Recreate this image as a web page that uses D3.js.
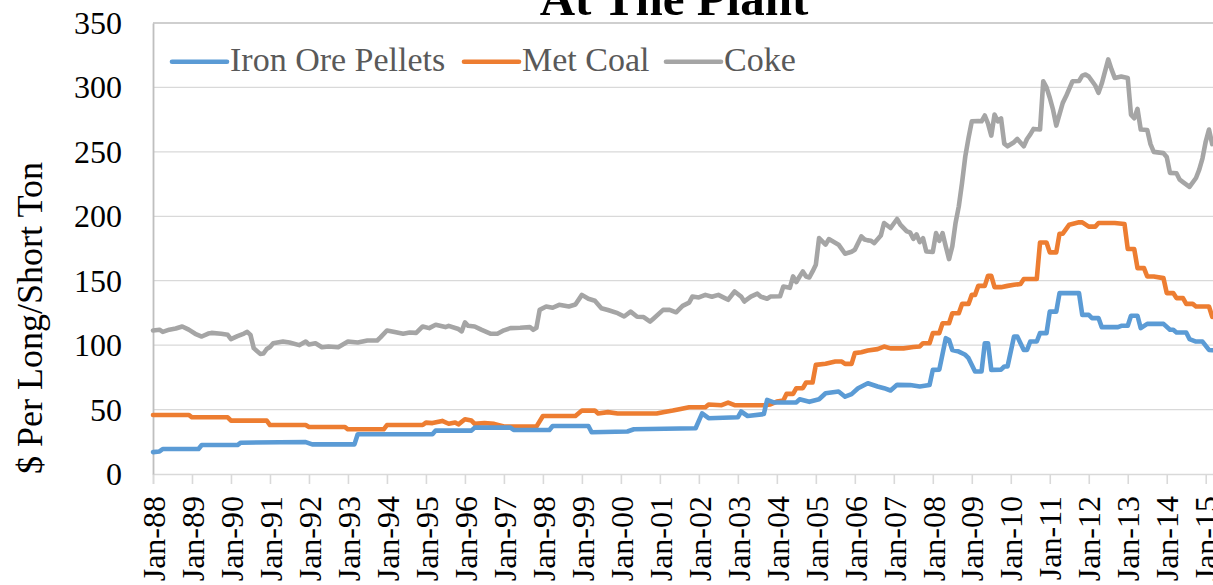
<!DOCTYPE html>
<html>
<head>
<meta charset="utf-8">
<script src="https://cdn.jsdelivr.net/npm/d3@7"></script>
<style>
  html, body { margin: 0; padding: 0; background: #fff; overflow: hidden; }
  svg { display: block; }
  text { font-family: "Liberation Serif", "Times New Roman", serif; }
</style>
</head>
<body>
<svg id="chart" width="1213" height="585"></svg>
<script>
// ---------------- DATA ----------------
const chartTitle = "At The Plant";
const yAxisTitle = "$ Per Long/Short Ton";
const seriesNames = ["Iron Ore Pellets", "Met Coal", "Coke"];
const yTicks = [0, 50, 100, 150, 200, 250, 300, 350];
const xTickLabels = ["Jan-88","Jan-89","Jan-90","Jan-91","Jan-92","Jan-93","Jan-94","Jan-95","Jan-96","Jan-97",
  "Jan-98","Jan-99","Jan-00","Jan-01","Jan-02","Jan-03","Jan-04","Jan-05","Jan-06","Jan-07","Jan-08","Jan-09",
  "Jan-10","Jan-11","Jan-12","Jan-13","Jan-14","Jan-15"];

const ironOre = [
  ["1988-01",17],["1988-03",17.5],["1988-04",19.4],["1989-03",19.4],["1989-04",22.5],["1990-03",22.5],
  ["1990-04",24.3],["1991-12",24.8],["1992-02",23],["1993-03",23],["1993-04",30.8],["1995-03",30.8],
  ["1995-04",33.7],["1996-03",33.7],["1996-04",36],["1997-03",36],["1997-04",34.2],["1998-03",34.2],
  ["1998-04",37.3],["1999-03",37.3],["1999-04",32.4],["2000-03",33],["2000-05",34.7],["2001-12",35.5],
  ["2002-02",47],["2002-04",43.3],["2003-01",44],["2003-02",48.5],["2003-04",45],["2003-09",46.5],
  ["2003-10",57.5],["2003-12",55.5],["2004-07",55.5],["2004-08",58],["2004-11",56],["2005-02",58],
  ["2005-04",62.7],["2005-08",64],["2005-10",60],["2005-12",62],["2006-02",66.6],["2006-05",70.4],
  ["2006-08",67.9],["2006-10",66.6],["2006-12",64.8],["2007-02",69.2],["2007-06",69],["2007-09",67.9],
  ["2007-12",69],["2008-01",80.8],["2008-03",81],["2008-05",105.4],["2008-06",104],["2008-07",96.3],
  ["2008-09",95],["2008-11",92.5],["2008-12",89.9],["2009-02",79.5],["2009-04",79.5],["2009-05",101.5],
  ["2009-06",101.5],["2009-07",80.8],["2009-10",81],["2009-11",83.4],["2009-12",83.4],["2010-02",106.7],
  ["2010-03",106.7],["2010-05",96.3],["2010-06",96.3],["2010-07",102.8],["2010-09",102.8],["2010-10",109.3],
  ["2010-12",109.3],["2011-01",126],["2011-03",126],["2011-04",140.4],["2011-10",140.4],["2011-11",123.5],
  ["2012-01",123.5],["2012-02",121],["2012-04",121],["2012-05",114],["2012-10",114],["2012-11",115],
  ["2013-01",115],["2013-02",122.8],["2013-04",122.8],["2013-05",113.2],["2013-07",116.5],["2013-12",116.5],
  ["2014-02",111.9],["2014-03",111.9],["2014-04",109.8],["2014-07",109.8],["2014-08",104.7],["2014-10",102.8],
  ["2014-12",102.8],["2015-02",96.3],["2015-03",96]
];

const metCoal = [
  ["1988-01",45.8],["1988-12",45.8],["1989-01",44],["1989-12",44],["1990-01",41.4],["1990-12",41.4],
  ["1991-01",38],["1991-12",38],["1992-01",36.5],["1992-12",36.5],["1993-01",34.7],["1993-12",34.7],
  ["1994-01",38],["1994-12",38],["1995-01",39.9],["1995-03",39.5],["1995-06",41.2],["1995-08",39],
  ["1995-10",40],["1995-11",38.5],["1996-01",42.5],["1996-03",41.5],["1996-04",38.9],["1996-07",39.5],
  ["1996-10",38.9],["1997-01",36.8],["1997-11",36.8],["1998-01",45],["1998-11",45],["1999-01",49.2],
  ["1999-05",49.2],["1999-06",47],["1999-09",48],["1999-12",47],["2000-12",47],["2001-02",48],
  ["2001-05",49.2],["2001-07",50.3],["2001-10",51.8],["2002-03",51.8],["2002-04",53.9],["2002-08",53.4],
  ["2002-10",55.4],["2002-12",53.4],["2003-09",53.4],["2003-11",54],["2004-01",56.2],["2004-03",57],
  ["2004-04",62.2],["2004-06",62.2],["2004-07",66.6],["2004-09",66.6],["2004-10",71],["2004-12",71],
  ["2005-01",84.7],["2005-04",85.5],["2005-07",87.3],["2005-09",87.3],["2005-10",85.5],["2005-12",85.5],
  ["2006-01",93.8],["2006-03",94.5],["2006-05",95.8],["2006-08",96.9],["2006-10",98.9],["2006-12",97.5],
  ["2007-04",97.5],["2007-07",98.5],["2007-09",99],["2007-10",101.5],["2007-12",101.5],["2008-01",109.3],
  ["2008-03",109.3],["2008-04",117],["2008-06",117],["2008-07",124.8],["2008-09",124.8],["2008-10",132],
  ["2008-12",132],["2009-01",139],["2009-02",139],["2009-03",146],["2009-05",146],["2009-06",153.8],
  ["2009-07",153.8],["2009-08",145],["2009-10",145],["2009-12",146],["2010-02",146.8],["2010-04",147.5],
  ["2010-05",151.3],["2010-09",151.3],["2010-10",179.7],["2010-12",179.7],["2011-01",172],["2011-03",172],
  ["2011-04",186.5],["2011-05",186.5],["2011-07",193.5],["2011-10",195.3],["2011-11",195.3],["2012-01",192],
  ["2012-03",192],["2012-04",194.8],["2012-09",194.8],["2012-12",194],["2013-01",174.6],["2013-03",174.6],
  ["2013-04",159.8],["2013-06",159.8],["2013-07",153.3],["2013-09",153.3],["2013-12",152],["2014-01",140.4],
  ["2014-03",140.4],["2014-04",136.5],["2014-06",136.5],["2014-07",132],["2014-09",132],["2014-10",130],
  ["2015-02",130],["2015-03",122]
];

const coke = [
  ["1988-01",111.4],["1988-03",112],["1988-04",110.3],["1988-06",112],["1988-08",112.9],["1988-10",114.5],
  ["1988-12",112],["1989-02",108.8],["1989-04",106.7],["1989-06",109],["1989-07",109.5],["1989-10",108.8],
  ["1989-12",108],["1990-01",104.7],["1990-03",107],["1990-05",109],["1990-06",110.3],["1990-07",108],
  ["1990-08",97.7],["1990-10",93.2],["1990-11",93.5],["1990-12",97],["1991-01",98.5],["1991-02",101.5],
  ["1991-05",102.8],["1991-07",102],["1991-10",100],["1991-12",102.8],["1992-01",100.5],["1992-03",101.5],
  ["1992-05",98.4],["1992-07",98.9],["1992-10",98.4],["1993-01",102.8],["1993-04",102],["1993-07",103.6],
  ["1993-10",103.6],["1993-11",106],["1994-01",111.4],["1994-03",110.3],["1994-06",108.8],["1994-08",109.8],
  ["1994-10",109.5],["1994-12",114.5],["1995-02",113.2],["1995-04",115.8],["1995-07",114],["1995-08",115],
  ["1995-11",112.5],["1995-12",110.7],["1996-01",117.6],["1996-02",115],["1996-04",114.5],["1996-06",112],
  ["1996-09",108.8],["1996-11",108.8],["1997-01",111.5],["1997-03",113.2],["1997-06",113.5],["1997-09",114],
  ["1997-10",111.9],["1997-11",113.5],["1997-12",127.4],["1998-02",130],["1998-04",129],["1998-06",131.3],
  ["1998-09",130],["1998-11",131.5],["1999-01",139],["1999-03",136],["1999-05",134.5],["1999-07",128.7],
  ["1999-09",127.3],["1999-12",124.8],["2000-02",122.2],["2000-04",126],["2000-06",122],["2000-08",121.8],
  ["2000-10",118.3],["2000-11",120.5],["2001-02",127.4],["2001-04",127.4],["2001-06",125.5],["2001-08",130.5],
  ["2001-10",133],["2001-11",137.7],["2002-01",137],["2002-03",139],["2002-05",137.5],["2002-07",139],
  ["2002-09",136.5],["2002-10",135.2],["2002-12",141.6],["2003-02",137.7],["2003-03",133.9],["2003-05",137.7],
  ["2003-07",140],["2003-08",137.7],["2003-10",136],["2003-11",137.7],["2004-02",138],["2004-03",145.5],
  ["2004-05",144.5],["2004-06",153.3],["2004-07",149],["2004-08",153.3],["2004-09",157.2],["2004-10",153.3],
  ["2004-11",152.5],["2004-12",157.2],["2005-01",162.4],["2005-02",183.1],["2005-04",178],["2005-05",182.3],
  ["2005-08",178],["2005-10",170.9],["2005-12",172.5],["2006-01",174],["2006-03",184.4],["2006-04",182],
  ["2006-05",181.3],["2006-06",181],["2006-07",179.2],["2006-09",185],["2006-10",194.8],["2006-12",190.9],
  ["2007-02",197.9],["2007-03",193.5],["2007-05",188.3],["2007-06",187.5],["2007-07",182.5],["2007-08",186],
  ["2007-09",180],["2007-10",183],["2007-11",172.7],["2008-01",172.3],["2008-02",187],["2008-03",181],
  ["2008-04",187],["2008-05",176.6],["2008-06",166.8],["2008-07",176.6],["2008-08",194.8],["2008-09",207.7],
  ["2008-10",225.9],["2008-11",246.5],["2008-12",260.8],["2009-01",273.7],["2009-03",274],["2009-04",273.7],
  ["2009-05",278.2],["2009-06",271.9],["2009-07",262.6],["2009-08",278.9],["2009-09",273.7],["2009-10",276],
  ["2009-11",256.4],["2009-12",254.3],["2010-02",257.5],["2010-03",260],["2010-05",254.3],["2010-06",260],
  ["2010-07",263.5],["2010-08",267.8],["2010-10",267.3],["2010-11",304.8],["2010-12",300],["2011-01",292],
  ["2011-02",282.8],["2011-03",270.4],["2011-05",288],["2011-06",293.1],["2011-08",304.8],["2011-10",305],
  ["2011-11",309.2],["2011-12",310],["2012-01",308.5],["2012-03",301.5],["2012-04",295.8],["2012-05",303],
  ["2012-07",321.7],["2012-08",314],["2012-09",307.4],["2012-11",308.5],["2013-01",307.4],["2013-02",278.9],
  ["2013-03",276],["2013-04",283.4],["2013-05",267.3],["2013-07",267],["2013-08",256],["2013-09",250],
  ["2013-12",249],["2014-01",246],["2014-02",233.7],["2014-04",233.4],["2014-05",228.4],["2014-06",226.5],
  ["2014-08",222.8],["2014-10",229.7],["2014-11",236.2],["2014-12",245],["2015-01",258],["2015-02",267.3],
  ["2015-03",256]
];

const seriesColors = ["#5b9bd5", "#ed7d31", "#a5a5a5"];

// ---------------- LAYOUT ----------------
const svg = d3.select("#chart");
const plot = { left: 153, top: 23, bottom: 474, monthPx: 38.99 / 12 };
const startYear = 1988;
const monthIndex = s => { const [y, m] = s.split("-").map(Number); return (y - startYear) * 12 + (m - 1); };
const lastMonth = 330;

const x = d3.scaleLinear().domain([0, lastMonth]).range([plot.left, plot.left + lastMonth * plot.monthPx]);
const y = d3.scaleLinear().domain([0, 350]).range([plot.bottom, plot.top]);
const plotRight = x(lastMonth);

// gridlines
svg.append("g").selectAll("line").data(yTicks.filter(v => v > 0)).join("line")
  .attr("x1", plot.left).attr("x2", plotRight)
  .attr("y1", d => y(d)).attr("y2", d => y(d))
  .attr("stroke", d => d === 350 ? "#bfbfbf" : "#d9d9d9")
  .attr("stroke-width", d => d === 350 ? 1.6 : 1.3);

// x axis
const xTickVals = xTickLabels.map((d, i) => i * 12);
const xAxis = d3.axisBottom(x).tickValues(xTickVals).tickSize(10)
  .tickFormat((d, i) => xTickLabels[i]);
const gx = svg.append("g").attr("transform", `translate(0,${plot.bottom})`).call(xAxis);
gx.select(".domain").attr("stroke", "#d9d9d9").attr("stroke-width", 1.6);
gx.selectAll(".tick line").attr("stroke", "#d9d9d9").attr("stroke-width", 1.6);
gx.selectAll(".tick text")
  .attr("transform", "rotate(-90)")
  .attr("x", -22).attr("y", 0).attr("dy", "0.35em")
  .attr("text-anchor", "end")
  .attr("font-size", 32).attr("font-family", "Liberation Serif, serif").attr("fill", "#000");

// y axis
const yAxis = d3.axisLeft(y).tickValues(yTicks).tickSize(0).tickPadding(31);
const gy = svg.append("g").attr("transform", `translate(${plot.left},0)`).call(yAxis);
gy.select(".domain").attr("stroke", "#bfbfbf").attr("stroke-width", 1.8);
gy.selectAll(".tick text").attr("font-size", 32).attr("font-family", "Liberation Serif, serif")
  .attr("fill", "#000").attr("dy", "0.33em");

// lines
const allSeries = [ironOre, metCoal, coke];
const line = d3.line().x(d => x(monthIndex(d[0]))).y(d => y(d[1]));
[2, 1, 0].forEach(i => {
  svg.append("path").datum(allSeries[i])
    .attr("d", line)
    .attr("fill", "none")
    .attr("stroke", seriesColors[i])
    .attr("stroke-width", 4.6)
    .attr("stroke-linejoin", "round")
    .attr("stroke-linecap", "round");
});

// legend (item start positions follow the reference layout)
const legend = svg.append("g");
const legendStarts = [172, 464, 666];
const ly = 61.7;
seriesNames.forEach((name, i) => {
  const lx = legendStarts[i];
  legend.append("line").attr("x1", lx).attr("x2", lx + 55).attr("y1", ly).attr("y2", ly)
    .attr("stroke", seriesColors[i]).attr("stroke-width", 4.6).attr("stroke-linecap", "round");
  legend.append("text").attr("x", lx + 58).attr("y", ly + 9.5)
    .attr("font-size", 34).attr("fill", "#595959").text(name);
});

// y axis title
svg.append("text")
  .attr("transform", "translate(42,318) rotate(-90)")
  .attr("text-anchor", "middle")
  .attr("font-size", 36).attr("fill", "#000")
  .text(yAxisTitle);

// chart title (partially cropped at top, as in the reference)
svg.append("text")
  .attr("x", 674).attr("y", 15)
  .attr("text-anchor", "middle")
  .attr("font-size", 49).attr("font-weight", "bold").attr("fill", "#000")
  .text(chartTitle);
</script>
</body>
</html>
